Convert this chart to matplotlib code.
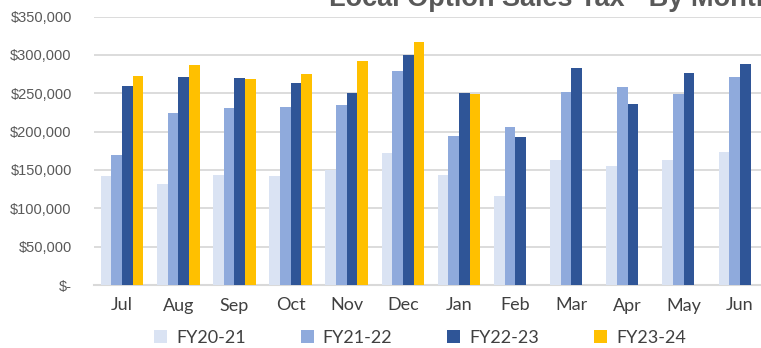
"""
Local option sales tax collections by month, four fiscal years side by side.
"""
import matplotlib
matplotlib.use("Agg")
import matplotlib.pyplot as plt
import numpy as np
from matplotlib.ticker import FuncFormatter


MONTHS = ["Jul", "Aug", "Sep", "Oct", "Nov", "Dec",
          "Jan", "Feb", "Mar", "Apr", "May", "Jun"]

FY20_21 = [142000, 132000, 144000, 141500, 150500, 172000,
           144000, 115500, 162500, 155500, 162500, 174000]
FY21_22 = [169000, 224500, 231000, 232000, 235000, 279000,
           194500, 206000, 252000, 257500, 249500, 271000]
FY22_23 = [259000, 270500, 269500, 263000, 250500, 300000,
           250500, 193000, 282500, 236000, 276500, 288000]
# FY23-24 only runs through January so far
FY23_24 = [273000, 287000, 269000, 275500, 292000, 317000,
           248500, None, None, None, None, None]

SERIES = ["FY20-21", "FY21-22", "FY22-23", "FY23-24"]
COLORS = ["#dae3f3", "#8faadc", "#2f5597", "#ffc000"]


def money(v, _pos):
    if v == 0:
        return "$-"
    return f"${v:,.0f}"


def main() -> None:
    fig = plt.figure(figsize=(7.61, 3.48), dpi=100)
    ax = fig.add_axes([94 / 761, 63 / 348, 674 / 761, 268.5 / 348])

    x = np.arange(len(MONTHS))
    width = 0.19
    for i, (name, vals, color) in enumerate(zip(SERIES, [FY20_21, FY21_22, FY22_23, FY23_24], COLORS)):
        vals = np.array([np.nan if v is None else v for v in vals], dtype=float)
        ax.bar(x + (i - 1.5) * width, vals, width, color=color, label=name, zorder=3)

    ax.set_xlim(-0.5, len(MONTHS) - 0.5)
    ax.set_ylim(0, 350000)
    ax.set_yticks(np.arange(0, 350001, 50000))
    ax.yaxis.set_major_formatter(FuncFormatter(money))
    ax.set_xticks(x)
    ax.set_xticklabels(MONTHS, fontfamily="Lato", fontsize=13, color="#404040")
    for lbl in ax.get_yticklabels():
        lbl.set_fontfamily("Liberation Sans")
        lbl.set_fontsize(10.5)
        lbl.set_color("#595959")

    ax.tick_params(axis="both", length=0)
    ax.tick_params(axis="y", pad=16)
    ax.tick_params(axis="x", pad=9)
    ax.grid(axis="y", color="#d9d9d9", linewidth=1.3, zorder=0)
    for side in ["top", "right", "left"]:
        ax.spines[side].set_visible(False)
    ax.spines["bottom"].set_color("#d9d9d9")
    ax.spines["bottom"].set_linewidth(1.5)

    fig.legend(loc="center", bbox_to_anchor=(420 / 761, 10 / 348), ncol=4,
               frameon=False, prop={"family": "Lato", "size": 13},
               labelcolor="#404040", handlelength=0.72, handleheight=0.72,
               handletextpad=0.5, columnspacing=3.05, borderpad=0)

    # title sits partly above the top edge of the canvas
    fig.text(772 / 761, 342 / 348, "Local Option Sales Tax - By Month",
             ha="right", va="baseline", fontfamily="Liberation Sans",
             fontweight="bold", fontsize=19.5, color="#595959")

    fig.savefig("out.png", dpi=100)
    plt.close(fig)


if __name__ == "__main__":
    main()
